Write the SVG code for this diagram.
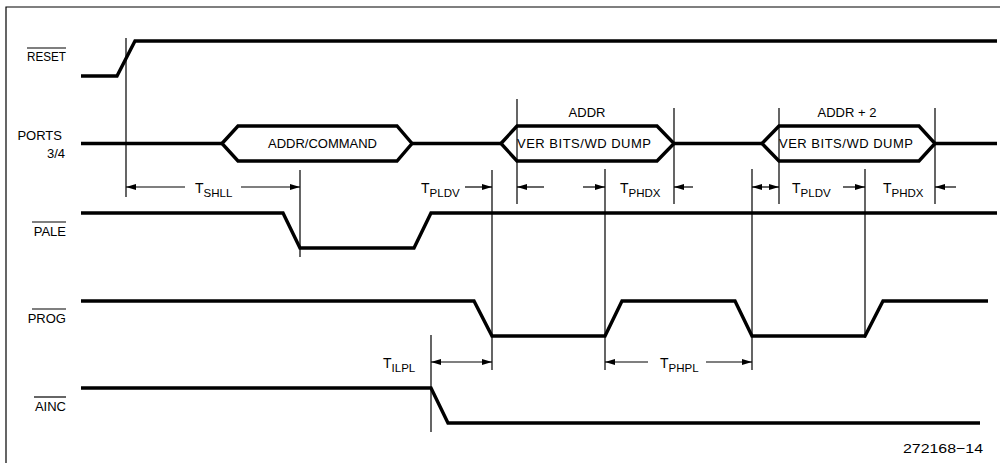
<svg xmlns="http://www.w3.org/2000/svg" width="1000" height="463" viewBox="0 0 1000 463">
<style>
  .sig { fill: none; stroke: #000; stroke-width: 3.4; stroke-linejoin: miter; }
  .thin { fill: none; stroke: #000; stroke-width: 1.2; }
  .arr { fill: none; stroke: #000; stroke-width: 1.2; }
  .lbl { font-family: "Liberation Sans", Arial, sans-serif; font-size: 13px; fill: #000; }
  .txt { font-family: "Liberation Sans", Arial, sans-serif; font-size: 13px; fill: #000; }
  .tl { font-family: "Liberation Sans", Arial, sans-serif; font-size: 14px; fill: #000; }
  .sub { font-size: 11.5px; }
</style>
<defs>
  <marker id="ah" markerUnits="userSpaceOnUse" markerWidth="10" markerHeight="7" refX="10" refY="3.5" orient="auto-start-reverse">
    <path d="M0,0.5 L10,3.5 L0,6.5 z" fill="#000"/>
  </marker>
</defs>
<rect width="1000" height="463" fill="#fff"/>
<path class="thin" d="M6,463 L6,7 L1000,7"/>

<g id="labels">
  <text class="lbl" x="66" y="61" text-anchor="end" textLength="39" lengthAdjust="spacingAndGlyphs">RESET</text>
  <line class="thin" x1="27" y1="48" x2="66" y2="48"/>
  <text class="lbl" x="62" y="140" text-anchor="end">PORTS</text>
  <text class="lbl" x="65" y="158" text-anchor="end">3/4</text>
  <text class="lbl" x="66" y="236" text-anchor="end">PALE</text>
  <line class="thin" x1="32" y1="222" x2="66" y2="222"/>
  <text class="lbl" x="66" y="323" text-anchor="end">PROG</text>
  <line class="thin" x1="32" y1="309" x2="66" y2="309"/>
  <text class="lbl" x="66" y="411" text-anchor="end">AINC</text>
  <line class="thin" x1="34" y1="397" x2="66" y2="397"/>
</g>

<g id="reset">
  <path class="sig" d="M81,76 L117,76 L135,41 L997,41"/>
</g>

<g id="ports">
  <path class="sig" d="M81,143.5 L222,143.5 M412,143.5 L501,143.5 M674,143.5 L762,143.5 M935,143.5 L997,143.5"/>
  <g id="bus-addr-command">
    <path class="sig" d="M222,143.5 L238,126 L397,126 L412,143.5 L397,161 L238,161 Z"/>
    <text class="txt" x="268" y="148" textLength="109" lengthAdjust="spacing">ADDR/COMMAND</text>
  </g>
  <g id="bus-ver1">
    <path class="sig" d="M501,143.5 L517,126 L657,126 L674,143.5 L657,161 L517,161 Z"/>
    <text class="txt" x="517" y="148" textLength="134" lengthAdjust="spacing">VER BITS/WD DUMP</text>
    <text class="txt" x="587" y="117" text-anchor="middle">ADDR</text>
  </g>
  <g id="bus-ver2">
    <path class="sig" d="M762,143.5 L779,126 L919,126 L935,143.5 L919,161 L779,161 Z"/>
    <text class="txt" x="779" y="148" textLength="134" lengthAdjust="spacing">VER BITS/WD DUMP</text>
    <text class="txt" x="847" y="117" text-anchor="middle">ADDR + 2</text>
  </g>
</g>

<g id="pale">
  <path class="sig" d="M81,213 L283,213 L300,248 L414,248 L431,213 L997,213"/>
</g>

<g id="prog">
  <path class="sig" d="M81,301 L474,301 L492,336 L605,336 L622,301 L735,301 L752,336 L865,336 L883,301 L988,301"/>
</g>

<g id="ainc">
  <path class="sig" d="M81,388 L431,388 L448,423 L980,423"/>
</g>

<g id="connectors">
  <path class="thin" d="M126,38 V197 M300,170 V257 M492,170 V370 M517,99 V204 M605,169 V370 M674,108 V204 M752,169 V370 M779,108 V204 M865,169 V338 M935,108 V204 M431,335 V432"/>
  <line class="arr" x1="185" y1="187" x2="126" y2="187" marker-end="url(#ah)"/>
  <line class="arr" x1="241" y1="187" x2="300" y2="187" marker-end="url(#ah)"/>
  <line class="arr" x1="465" y1="187" x2="492" y2="187" marker-end="url(#ah)"/>
  <line class="arr" x1="544" y1="187" x2="517" y2="187" marker-end="url(#ah)"/>
  <line class="arr" x1="583" y1="187" x2="605" y2="187" marker-end="url(#ah)"/>
  <line class="arr" x1="693" y1="187" x2="674" y2="187" marker-end="url(#ah)"/>
  <line class="arr" x1="752" y1="187" x2="779" y2="187" marker-start="url(#ah)" marker-end="url(#ah)"/>
  <line class="arr" x1="843" y1="187" x2="865" y2="187" marker-end="url(#ah)"/>
  <line class="arr" x1="956" y1="187" x2="935" y2="187" marker-end="url(#ah)"/>
  <line class="arr" x1="431" y1="362" x2="492" y2="362" marker-start="url(#ah)" marker-end="url(#ah)"/>
  <line class="arr" x1="648" y1="362" x2="605" y2="362" marker-end="url(#ah)"/>
  <line class="arr" x1="706" y1="362" x2="752" y2="362" marker-end="url(#ah)"/>
</g>

<g id="timing-labels">
  <text class="tl" x="195" y="193">T<tspan class="sub" dy="4">SHLL</tspan></text>
  <text class="tl" x="421" y="193">T<tspan class="sub" dy="4">PLDV</tspan></text>
  <text class="tl" x="620" y="193">T<tspan class="sub" dy="4">PHDX</tspan></text>
  <text class="tl" x="792" y="193">T<tspan class="sub" dy="4">PLDV</tspan></text>
  <text class="tl" x="883" y="193">T<tspan class="sub" dy="4">PHDX</tspan></text>
  <text class="tl" x="383" y="368">T<tspan class="sub" dy="4">ILPL</tspan></text>
  <text class="tl" x="660" y="368">T<tspan class="sub" dy="4">PHPL</tspan></text>
</g>

<text class="txt" x="903" y="453" font-size="14.5" textLength="80" lengthAdjust="spacingAndGlyphs">272168−14</text>
</svg>
